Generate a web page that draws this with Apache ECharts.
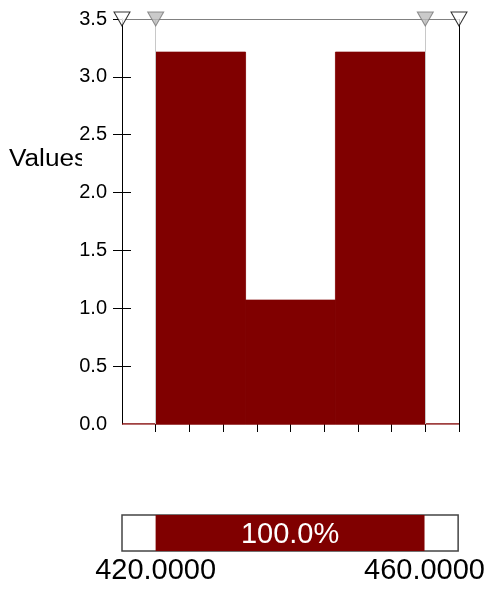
<!DOCTYPE html>
<html>
<head>
<meta charset="utf-8">
<script src="https://cdn.jsdelivr.net/npm/echarts@6/dist/echarts.min.js"></script>
<style>
  html, body { margin: 0; padding: 0; background: #fff; }
  #chart { width: 488px; height: 589px; }
</style>
</head>
<body>
<div id="chart"></div>
<script>
// Histogram bins (lower edge, upper edge, height)
const binStarts = [420, 433.333, 446.667];
const binEnds = [433.333, 446.667, 460];
const binValues = [3.214, 1.071, 3.214];

// Y axis ticks and labels
const yTickValues = [0.5, 1.0, 1.5, 2.0, 2.5, 3.0, 3.5];
const yLabelValues = [0.0, 0.5, 1.0, 1.5, 2.0, 2.5, 3.0, 3.5];

// X axis ticks (no labels on the main axis)
const xTickValues = [420, 425, 430, 435, 440, 445, 450, 455, 460, 465];

// Range handles along the top edge: outer limits and selected range
const outerHandles = [415, 465];
const innerHandles = [420, 460];

// Selected range summary shown in the bar underneath
const rangeLow = 420;
const rangeHigh = 460;
const rangeShare = 100.0;

const DARK_RED = '#800000';
const FONT = '"Liberation Sans", Arial, sans-serif';

const chart = echarts.init(document.getElementById('chart'), null, { renderer: 'canvas' });

const histData = binStarts.map((s, i) => [s, binEnds[i], binValues[i]]);

function histItem(params, api) {
  const p0 = api.coord([api.value(0), api.value(2)]);
  const p1 = api.coord([api.value(1), 0]);
  return {
    type: 'rect',
    shape: { x: p0[0], y: p0[1], width: p1[0] - p0[0], height: p1[1] - p0[1] },
    style: { fill: DARK_RED, stroke: DARK_RED, lineWidth: 0.8 }
  };
}

function rangeItem(params, api) {
  const p0 = api.coord([api.value(0), 1]);
  const p1 = api.coord([api.value(1), 0]);
  return {
    type: 'group',
    children: [
      {
        type: 'rect',
        shape: { x: p0[0], y: p0[1], width: p1[0] - p0[0], height: p1[1] - p0[1] },
        style: { fill: DARK_RED }
      },
      {
        type: 'text',
        x: (p0[0] + p1[0]) / 2,
        y: (p0[1] + p1[1]) / 2 + 2,
        style: {
          text: api.value(2).toFixed(1) + '%',
          fill: '#fff',
          font: '29px ' + FONT,
          align: 'center',
          verticalAlign: 'middle'
        }
      }
    ]
  };
}

const option = {
  animation: false,
  backgroundColor: '#fff',
  textStyle: { fontFamily: FONT },
  grid: [
    { left: 122, right: 29, top: 19, bottom: 165, containLabel: false },
    { left: 122, right: 29, top: 515, height: 36, show: true, borderColor: '#444', borderWidth: 1.5, backgroundColor: 'transparent' }
  ],
  xAxis: [
    {
      gridIndex: 0, type: 'value', min: 415, max: 465, interval: 5,
      axisLine: { show: false },
      axisTick: { show: true, length: 8, customValues: xTickValues, lineStyle: { color: '#000', width: 1 } },
      axisLabel: { show: false },
      splitLine: { show: false }
    },
    {
      gridIndex: 1, type: 'value', min: 415, max: 465,
      axisLine: { show: false },
      axisTick: { show: false },
      splitLine: { show: false },
      axisLabel: {
        show: true,
        customValues: [rangeLow, rangeHigh],
        formatter: v => v.toFixed(4),
        fontSize: 29, color: '#000', fontFamily: FONT, margin: 5
      }
    }
  ],
  yAxis: [
    {
      gridIndex: 0, type: 'value', min: 0, max: 3.5, interval: 0.5, position: 'left',
      axisLine: { show: true, onZero: false, lineStyle: { color: '#000', width: 1 } },
      axisTick: { show: true, length: 9, customValues: yTickValues, lineStyle: { color: '#000' } },
      axisLabel: {
        show: true, customValues: yLabelValues,
        formatter: v => v.toFixed(1),
        fontSize: 20, color: '#000', fontFamily: FONT, margin: 15
      },
      splitLine: { show: false }
    },
    {
      gridIndex: 0, type: 'value', min: 0, max: 3.5, interval: 0.5, position: 'left', offset: 0,
      axisLine: { show: false },
      axisTick: { show: true, inside: true, length: 9, customValues: yTickValues, lineStyle: { color: '#000' } },
      axisLabel: { show: false },
      splitLine: { show: false }
    },
    {
      gridIndex: 1, type: 'value', min: 0, max: 1,
      axisLine: { show: false }, axisTick: { show: false },
      axisLabel: { show: false }, splitLine: { show: false }
    }
  ],
  graphic: [
    {
      // axis title, slightly widened and cut off where the tick labels begin
      type: 'text', x: 9, y: 148, scaleX: 1.14, z: 10,
      style: { text: 'Values', font: '23px ' + FONT, fill: '#000' }
    },
    {
      type: 'rect', left: 82, top: 146, z: 11,
      shape: { width: 24, height: 32 },
      style: { fill: '#fff' }
    }
  ],
  series: [
    {
      // zero line of the histogram outline plus frame and handle guides
      type: 'line', xAxisIndex: 0, yAxisIndex: 0, z: 1,
      data: [[415, 0], [465, 0]],
      symbol: 'none',
      lineStyle: { color: DARK_RED, width: 1.5 },
      markLine: {
        silent: true, symbol: ['none', 'none'], label: { show: false },
        data: [
          { xAxis: innerHandles[0], lineStyle: { color: '#c8c8c8', width: 1, type: 'solid' } },
          { xAxis: innerHandles[1], lineStyle: { color: '#c8c8c8', width: 1, type: 'solid' } },
          { xAxis: outerHandles[1], lineStyle: { color: '#000', width: 1, type: 'solid' } },
          { yAxis: 3.5, lineStyle: { color: '#808080', width: 1, type: 'solid' } }
        ]
      }
    },
    {
      type: 'custom', xAxisIndex: 0, yAxisIndex: 0, z: 2,
      renderItem: histItem,
      data: histData,
      encode: { x: [0, 1], y: 2 }
    },
    {
      type: 'scatter', xAxisIndex: 0, yAxisIndex: 0, z: 5, clip: false,
      symbol: 'triangle', symbolRotate: 180, symbolSize: [16, 14],
      data: [
        { value: [outerHandles[0], 3.5], itemStyle: { color: '#fff', borderColor: '#000', borderWidth: 1 } },
        { value: [innerHandles[0], 3.5], itemStyle: { color: '#bdbdbd', borderColor: '#777', borderWidth: 1 } },
        { value: [innerHandles[1], 3.5], itemStyle: { color: '#bdbdbd', borderColor: '#777', borderWidth: 1 } },
        { value: [outerHandles[1], 3.5], itemStyle: { color: '#fff', borderColor: '#000', borderWidth: 1 } }
      ]
    },
    {
      type: 'custom', xAxisIndex: 1, yAxisIndex: 2, z: 2,
      renderItem: rangeItem,
      data: [[rangeLow, rangeHigh, rangeShare]],
      encode: { x: [0, 1] }
    }
  ]
};

chart.setOption(option);
</script>
</body>
</html>
